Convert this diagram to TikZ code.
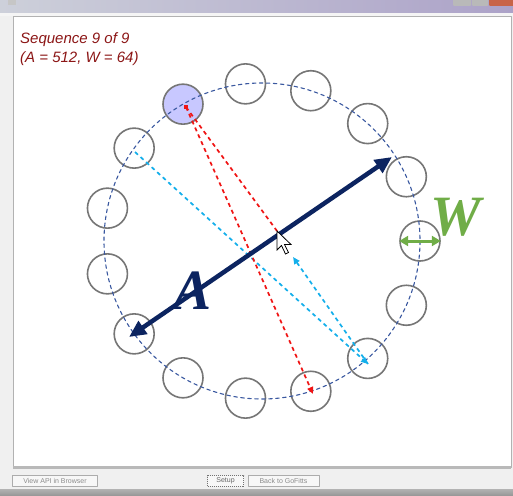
\documentclass[tikz,border=0pt]{standalone}
\usepackage{fontspec}
\setmainfont{Liberation Serif}
\setsansfont{Liberation Sans}
\usetikzlibrary{arrows.meta}

\definecolor{rossoscuro}{RGB}{140,22,22}
\definecolor{blunotte}{RGB}{12,36,96}
\definecolor{verdew}{RGB}{112,173,71}
\definecolor{azzurro}{RGB}{20,175,235}
\definecolor{rosso}{RGB}{240,20,20}
\definecolor{bordogrigio}{RGB}{118,118,118}
\definecolor{lilla}{RGB}{200,200,255}
\definecolor{tratteggio}{RGB}{58,88,160}
\definecolor{barrasx}{RGB}{205,208,218}
\definecolor{barracentro}{RGB}{82,82,132}
\definecolor{barradx}{RGB}{172,162,200}
\definecolor{chiudi}{RGB}{200,100,72}

\begin{document}
\begin{tikzpicture}[
    x=1pt, y=-1pt,
    line cap=round,
    line join=round,
    bersaglio/.style={circle, draw=bordogrigio, line width=1.6pt,
        minimum size=40pt, inner sep=0pt},
    percorso/.style={dashed, line width=1.7pt, dash pattern=on 4pt off 3.5pt,
        line cap=butt},
    punta/.style={-{Triangle[length=7pt,width=6pt]}},
    bottone/.style={draw=gray!65, fill=gray!6, minimum height=11pt,
        inner sep=0pt, text=gray!90,
        font=\sffamily\fontsize{7}{8}\selectfont}
]
\useasboundingbox (0,0) rectangle (513,495);

% Finestra
\fill[gray!12] (0,0) rectangle (513,495);
\shade[left color=barrasx, middle color=barracentro, right color=barradx]
    (0,0) rectangle (513,13);
\fill[gray!45] (8,0) rectangle (16,5);
\fill[gray!55, rounded corners=1pt] (453,-3) rectangle (471,6);
\fill[gray!55, rounded corners=1pt] (472,-3) rectangle (488,6);
\fill[chiudi, rounded corners=1pt] (489,-3) rectangle (516,6);
\fill[gray!8] (0,13) rectangle (513,16);
\draw[gray!60, fill=white, line width=1pt] (13,17) rectangle (511,467);
\draw[gray!55, line width=2.5pt, line cap=butt] (13,467.5) -- (511,467.5);
\shade[top color=gray!60, bottom color=gray!80] (0,489) rectangle (513,495);

% Intestazione
\node[anchor=base west, text=rossoscuro, inner sep=0pt,
    font=\sffamily\itshape\fontsize{15}{18}\selectfont] (riga1) at (20,44) {Sequence 9 of 9};
\node[anchor=base west, text=rossoscuro, inner sep=0pt,
    font=\sffamily\itshape\fontsize{15}{18}\selectfont] (riga2) at (20,63) {(A = 512, W = 64)};

% Bersagli
\coordinate (c) at (262,241);
\fill[lilla] ([shift={(-120:158)}]c) circle (20);
\foreach \k in {0,...,14}
    \node[bersaglio] (t\k) at ([shift={(-\k*24:158)}]c) {};
\draw[tratteggio, dashed, dash pattern=on 3.5pt off 3.5pt, line width=1.1pt]
    (c) circle (158);

% Clic e traiettorie
\coordinate (p0) at (135,152);
\coordinate (p1) at (368,364);
\coordinate (p2) at (186,107);
\coordinate (p3) at (313,394);
\coordinate (ritorno) at (293,257);
\coordinate (mouse) at (277,231);

\draw[percorso, azzurro, punta] (p0) -- (p1);
\draw[percorso, azzurro, punta] (p1) -- (ritorno);
\draw[percorso, rosso, punta] (p2) -- (p3);
\draw[percorso, rosso] (p2) -- (mouse);
\fill[rosso] ([shift={(-2.2,-2.2)}]p2) rectangle ++(4.4,4.4);

% Ampiezza A
\coordinate (a1) at (129,337);
\coordinate (a2) at (392,157);
\draw[blunotte, line width=4.5pt,
    {Triangle[length=17pt,width=15pt]}-{Triangle[length=17pt,width=15pt]}]
    (a1) -- (a2);
\node[text=blunotte, font=\bfseries\itshape\fontsize{57}{60}\selectfont] (lettA) at (193,291) {A};

% Larghezza W
\draw[verdew, line width=3pt,
    {Triangle[length=9pt,width=10pt]}-{Triangle[length=9pt,width=10pt]}]
    (t0.west) -- (t0.east);
\node[text=verdew, font=\bfseries\itshape\fontsize{57}{60}\selectfont] (lettW) at (456,217) {W};

% Puntatore
\draw[black, fill=white, line width=0.8pt, line join=miter] (mouse)
    -- ++(0,19) -- ++(4.5,-4.5) -- ++(4,8.5) -- ++(3,-1.5)
    -- ++(-4,-8) -- ++(6.5,0) -- cycle;

% Pulsanti
\node[bottone, minimum width=85pt] (api) at (55,481) {View API in Browser};
\node[bottone, minimum width=36pt, draw=gray!90!black, dash pattern=on 1pt off 1pt,
    line cap=butt, text=gray!80!black] (setup) at (225.5,481) {Setup};
\node[bottone, minimum width=71pt] (indietro) at (283.5,481) {Back to GoFitts};

\end{tikzpicture}
\end{document}
